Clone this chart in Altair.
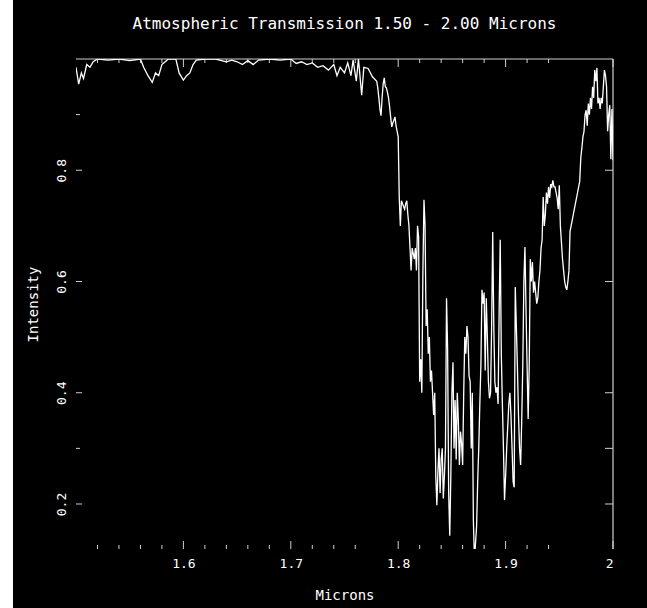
import altair as alt
import pandas as pd

TITLE = "Atmospheric Transmission 1.50 - 2.00 Microns"

# Transmission curve, 1.50 - 2.00 microns: sparse samples over the clear
# band, then a 0.001 micron grid through the water absorption band.
wavelength = [
    1.500, 1.5025, 1.505, 1.507, 1.510, 1.513, 1.516, 1.520, 1.530, 1.540,
    1.550, 1.560, 1.563, 1.567, 1.571, 1.574, 1.577, 1.580, 1.583, 1.586,
    1.593, 1.596, 1.600, 1.603, 1.606, 1.609, 1.612, 1.620, 1.630, 1.640,
    1.645, 1.650, 1.655, 1.660, 1.665, 1.670, 1.680, 1.690, 1.700, 1.705,
    1.710, 1.715, 1.720, 1.725, 1.730, 1.735, 1.740, 1.743, 1.746, 1.750,
    1.753, 1.756, 1.758, 1.761, 1.763, 1.766, 1.768, 1.772, 1.776,
    1.780, 1.781, 1.782, 1.783, 1.784, 1.785, 1.786, 1.787, 1.788, 1.789,
    1.790, 1.791, 1.792, 1.793, 1.794, 1.795, 1.796, 1.797, 1.798, 1.799,
    1.800, 1.801, 1.802, 1.803, 1.804, 1.805, 1.806, 1.807, 1.808, 1.809,
    1.810, 1.811, 1.812, 1.813, 1.814, 1.815, 1.816, 1.817, 1.818, 1.819,
    1.820, 1.821, 1.822, 1.823, 1.824, 1.825, 1.826, 1.827, 1.828, 1.829,
    1.830, 1.831, 1.832, 1.833, 1.834, 1.835, 1.836, 1.837, 1.838, 1.839,
    1.840, 1.841, 1.842, 1.843, 1.844, 1.845, 1.846, 1.847, 1.848, 1.849,
    1.850, 1.851, 1.852, 1.853, 1.854, 1.855, 1.856, 1.857, 1.858, 1.859,
    1.860, 1.861, 1.862, 1.863, 1.864, 1.865, 1.866, 1.867, 1.868, 1.869,
    1.870, 1.871, 1.872, 1.873, 1.874, 1.875, 1.876, 1.877, 1.878, 1.879,
    1.880, 1.881, 1.882, 1.883, 1.884, 1.885, 1.886, 1.887, 1.888, 1.889,
    1.890, 1.891, 1.892, 1.893, 1.894, 1.895, 1.896, 1.897, 1.898, 1.899,
    1.900, 1.901, 1.902, 1.903, 1.904, 1.905, 1.906, 1.907, 1.908, 1.909,
    1.910, 1.911, 1.912, 1.913, 1.914, 1.915, 1.916, 1.917, 1.918, 1.919,
    1.920, 1.921, 1.922, 1.923, 1.924, 1.925, 1.926, 1.927, 1.928, 1.929,
    1.930, 1.931, 1.932, 1.933, 1.934, 1.935, 1.936, 1.937, 1.938, 1.939,
    1.940, 1.941, 1.942, 1.943, 1.944, 1.945, 1.946, 1.947, 1.948, 1.949,
    1.950, 1.951, 1.952, 1.953, 1.954, 1.955, 1.956, 1.957, 1.958, 1.959,
    1.960, 1.961, 1.962, 1.963, 1.964, 1.965, 1.966, 1.967, 1.968, 1.969,
    1.970, 1.971, 1.972, 1.973, 1.974, 1.975, 1.976, 1.977, 1.978, 1.979,
    1.980, 1.981, 1.982, 1.983, 1.984, 1.985, 1.986, 1.987, 1.988, 1.989,
    1.990, 1.991, 1.992, 1.993, 1.994, 1.995, 1.996, 1.997, 1.998, 1.999,
    2.000,
]
intensity = [
    0.985, 0.955, 0.975, 0.965, 0.990, 0.985, 0.995, 1.000, 0.998, 1.000,
    0.997, 1.000, 0.985, 0.970, 0.958, 0.975, 0.970, 0.990, 0.995, 1.000,
    1.000, 0.975, 0.962, 0.970, 0.975, 0.990, 0.998, 1.000, 1.000, 0.995,
    0.998, 0.995, 0.990, 0.997, 0.990, 0.998, 1.000, 0.998, 1.000, 0.992,
    0.995, 0.990, 0.993, 0.985, 0.988, 0.980, 0.990, 0.970, 0.985, 0.975,
    0.993, 0.970, 0.998, 0.960, 1.000, 0.935, 0.985, 0.983, 0.968,
    0.960, 0.948, 0.930, 0.910, 0.898, 0.930, 0.955, 0.966, 0.950, 0.948,
    0.940, 0.930, 0.914, 0.895, 0.878, 0.885, 0.890, 0.896, 0.880, 0.870,
    0.860, 0.750, 0.700, 0.745, 0.740, 0.735, 0.730, 0.740, 0.745, 0.720,
    0.700, 0.660, 0.620, 0.660, 0.650, 0.640, 0.660, 0.620, 0.700, 0.680,
    0.420, 0.460, 0.400, 0.620, 0.747, 0.700, 0.520, 0.550, 0.470, 0.500,
    0.420, 0.440, 0.400, 0.360, 0.400, 0.250, 0.198, 0.260, 0.300, 0.220,
    0.280, 0.300, 0.210, 0.250, 0.300, 0.570, 0.480, 0.220, 0.143, 0.250,
    0.400, 0.455, 0.300, 0.387, 0.280, 0.400, 0.350, 0.270, 0.330, 0.310,
    0.270, 0.400, 0.500, 0.470, 0.520, 0.500, 0.430, 0.420, 0.300, 0.400,
    0.170, 0.100, 0.130, 0.160, 0.240, 0.300, 0.380, 0.450, 0.585, 0.560,
    0.580, 0.440, 0.570, 0.500, 0.420, 0.390, 0.400, 0.520, 0.689, 0.520,
    0.420, 0.400, 0.410, 0.380, 0.550, 0.675, 0.470, 0.380, 0.300, 0.207,
    0.250, 0.300, 0.340, 0.380, 0.400, 0.360, 0.300, 0.240, 0.230, 0.590,
    0.520, 0.446, 0.360, 0.300, 0.270, 0.350, 0.450, 0.600, 0.662, 0.550,
    0.450, 0.353, 0.450, 0.640, 0.600, 0.635, 0.580, 0.600, 0.580, 0.560,
    0.570, 0.600, 0.620, 0.660, 0.675, 0.752, 0.700, 0.720, 0.760, 0.740,
    0.770, 0.750, 0.775, 0.770, 0.782, 0.770, 0.770, 0.760, 0.750, 0.730,
    0.773, 0.700, 0.670, 0.640, 0.620, 0.600, 0.590, 0.585, 0.600, 0.620,
    0.690, 0.700, 0.710, 0.720, 0.730, 0.740, 0.750, 0.760, 0.770, 0.780,
    0.822, 0.840, 0.860, 0.870, 0.900, 0.908, 0.880, 0.920, 0.900, 0.930,
    0.910, 0.950, 0.930, 0.980, 0.960, 0.984, 0.920, 0.930, 0.910, 0.930,
    0.920, 0.950, 0.980, 0.970, 0.950, 0.870, 0.900, 0.917, 0.820, 0.910,
    0.818,
]

x_major = [1.6, 1.7, 1.8, 1.9, 2.0]
x_minor = [1.52, 1.54, 1.56, 1.58, 1.62, 1.64, 1.66, 1.68, 1.72, 1.74,
           1.76, 1.82, 1.84, 1.86, 1.88, 1.92, 1.94]
y_major = [0.2, 0.4, 0.6, 0.8]
y_minor = [0.3, 0.9]

W, H = 537, 490
FONT = "DejaVu Sans Mono"
FRAME = "#cfcfcf"

x_scale = alt.Scale(domain=[1.5, 2.0], nice=False, zero=False)
y_scale = alt.Scale(domain=[0.1191, 1.0], nice=False, zero=False)

# one axis definition per channel, shared by every layer so they merge cleanly
x_axis = alt.Axis(title="Microns", values=x_major, format=".1~f",
                  labelPadding=14, labelBaseline="middle",
                  titleY=46, titleBaseline="middle")
y_axis = alt.Axis(title="Intensity", values=y_major, format=".1f",
                  labelAngle=270, labelAlign="center",
                  labelBaseline="middle", labelPadding=15,
                  titleAngle=270, titleX=-43, titleY=H / 2,
                  titleAlign="center", titleBaseline="middle")

curve = pd.DataFrame({"wavelength": wavelength, "intensity": intensity})

line = alt.Chart(curve).mark_line(color="white", strokeWidth=1.3, clip=True).encode(
    x=alt.X("wavelength:Q", scale=x_scale, axis=x_axis),
    y=alt.Y("intensity:Q", scale=y_scale, axis=y_axis),
)

one = pd.DataFrame({"k": [0]})


def x_ticks(values, y0, y1):
    return alt.Chart(pd.DataFrame({"wavelength": values})).mark_rule(color=FRAME).encode(
        x=alt.X("wavelength:Q", scale=x_scale, axis=x_axis),
        y=alt.value(y0), y2=alt.value(y1))


def y_ticks(values, x0, x1):
    return alt.Chart(pd.DataFrame({"intensity": values})).mark_rule(color=FRAME).encode(
        y=alt.Y("intensity:Q", scale=y_scale, axis=y_axis),
        x=alt.value(x0), x2=alt.value(x1))


frame_top = alt.Chart(one).mark_rule(color=FRAME, strokeWidth=1.2).encode(
    x=alt.value(0), x2=alt.value(W), y=alt.value(0))
frame_right = alt.Chart(one).mark_rule(color=FRAME, strokeWidth=1.2).encode(
    x=alt.value(W), y=alt.value(0), y2=alt.value(H))
left_strip = alt.Chart(one).mark_rule(color="white", strokeWidth=13).encode(
    x=alt.value(-69.5), y=alt.value(-59), y2=alt.value(H + 59))
heading = alt.Chart(one).mark_text(
    font=FONT, fontSize=16, color="white", align="center", baseline="middle"
).encode(x=alt.value(W / 2), y=alt.value(-35), text=alt.value(TITLE))

chart = alt.layer(
    left_strip,
    x_ticks(x_major, H, H - 8), x_ticks(x_minor, H, H - 4),
    x_ticks(x_major, 0, 8), x_ticks(x_minor, 0, 4),
    y_ticks(y_major, 0, 6), y_ticks(y_minor, 0, 4),
    y_ticks(y_major, W, W - 8), y_ticks([0.3], W, W - 8),
    frame_top, frame_right,
    line, heading,
).properties(
    width=W, height=H,
    autosize=alt.AutoSizeParams(type="none"),
    padding={"left": 76, "top": 59, "right": 34, "bottom": 59},
    background="black",
).configure_view(strokeWidth=0).configure_axis(
    domain=False, ticks=False, grid=False,
    labelColor="white", labelFont=FONT, labelFontSize=13,
    titleColor="white", titleFont=FONT, titleFontSize=14, titleFontWeight="normal",
)

chart.save("out.html", embed_options={"renderer": "svg", "actions": False})
